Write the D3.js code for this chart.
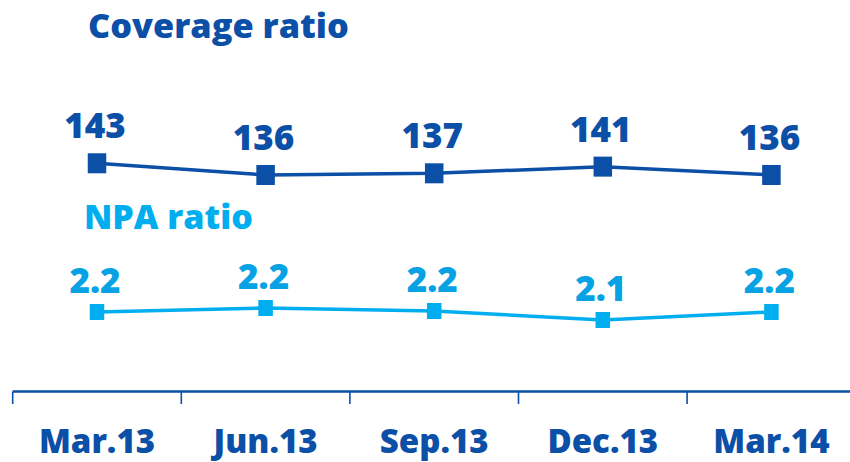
<!DOCTYPE html>
<html>
<head>
<meta charset="utf-8">
<script src="https://cdn.jsdelivr.net/npm/d3@7"></script>
<style>
  html, body { margin: 0; padding: 0; background: #fff; }
  svg { display: block; }
  text { font-family: "Open Sans", sans-serif; font-weight: 800; }
</style>
</head>
<body>
<svg id="chart" width="850" height="462"></svg>
<script>
// ---- data ----
const categories = ["Mar.13", "Jun.13", "Sep.13", "Dec.13", "Mar.14"];
const coverageRatio = [143, 136, 137, 141, 136];
const npaRatio = [2.18, 2.22, 2.19, 2.10, 2.18];
const coverageTitle = "Coverage ratio";
const npaTitle = "NPA ratio";

// ---- colours ----
const darkBlue = "#0b4fa6";
const lightBlue = "#00aeef";
const lightBlueText = "#06a2e4";

const svg = d3.select("#chart");

const x = d3.scaleBand().domain(categories).range([12.7, 855.7]).padding(0);
const yCov = d3.scaleLinear().domain([130, 150]).range([185, 151.6]);
const yNpa = d3.scaleLinear().domain([2.0, 2.3]).range([330, 300]);
const cx = c => x(c) + x.bandwidth() / 2;

// ---- titles ----
svg.append("text").attr("x", 88).attr("y", 38)
  .attr("font-size", 34.3).attr("fill", darkBlue).text(coverageTitle);
svg.append("text").attr("x", 84).attr("y", 229)
  .attr("font-size", 34).attr("fill", lightBlue).text(npaTitle);

// ---- x axis ----
const axisY = 391.5;
const gAxis = svg.append("g").attr("transform", `translate(0,${axisY})`);
gAxis.append("line").attr("x1", x.range()[0]).attr("x2", 850)
  .attr("y1", 0).attr("y2", 0).attr("stroke", darkBlue).attr("stroke-width", 2.6);
gAxis.selectAll("line.tick").data(categories).join("line")
  .attr("class", "tick")
  .attr("x1", d => x(d)).attr("x2", d => x(d))
  .attr("y1", 0).attr("y2", 12.5)
  .attr("stroke", darkBlue).attr("stroke-width", 1.6);

const labelAxis = d3.axisBottom(x).tickSize(0).tickPadding(0);
const gLabels = svg.append("g").attr("transform", `translate(0,${axisY})`).call(labelAxis);
gLabels.select(".domain").remove();
gLabels.selectAll("text")
  .attr("dy", null).attr("y", 61)
  .attr("font-size", 33).attr("fill", darkBlue)
  .style("font-family", "'Open Sans', sans-serif").style("font-weight", 800);

// ---- series ----
function drawSeries(values, yScale, color, textColor, mw, mh, sw, labelOffset, fmt) {
  const pts = categories.map((c, i) => ({ c, v: values[i] }));
  const line = d3.line().x(d => cx(d.c)).y(d => yScale(d.v));
  svg.append("path").datum(pts).attr("d", line)
    .attr("fill", "none").attr("stroke", color).attr("stroke-width", sw);
  svg.append("g").selectAll("rect").data(pts).join("rect")
    .attr("x", d => cx(d.c) - mw / 2).attr("y", d => yScale(d.v) - mh / 2)
    .attr("width", mw).attr("height", mh).attr("fill", color);
  svg.append("g").selectAll("text").data(pts).join("text")
    .attr("x", d => cx(d.c) - 2).attr("y", d => yScale(d.v) - labelOffset)
    .attr("text-anchor", "middle").attr("font-size", 35).attr("fill", textColor)
    .text(d => fmt(d.v));
}

drawSeries(coverageRatio, yCov, darkBlue, darkBlue, 18.5, 20, 3.5, 25, d3.format("d"));
drawSeries(npaRatio, yNpa, lightBlue, lightBlueText, 14.5, 16, 3.5, 19, d3.format(".1f"));
</script>
</body>
</html>
